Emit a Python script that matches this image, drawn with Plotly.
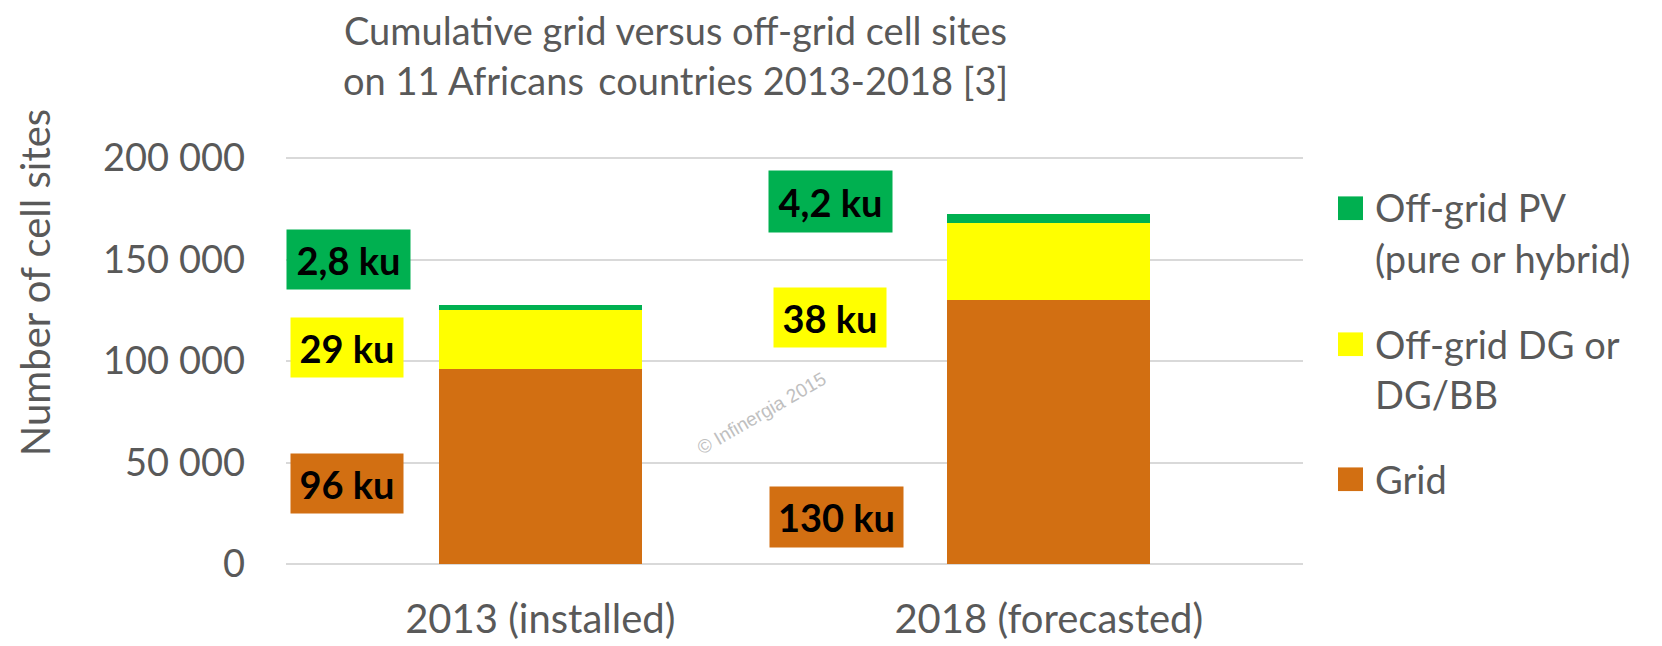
import plotly.graph_objects as go

# ---- data ----
categories = ["2013 (installed)", "2018 (forecasted)"]
grid = [96000, 130000]
offgrid_dg = [29000, 38000]
offgrid_pv = [2800, 4200]
series_names = ["Grid", "Off-grid DG or DG/BB", "Off-grid PV (pure or hybrid)"]
legend_lines = [["Grid"], ["Off-grid DG or", "DG/BB"], ["Off-grid PV", "(pure or hybrid)"]]
y_ticks = [0, 50000, 100000, 150000, 200000]
title_lines = ["Cumulative grid versus off-grid cell sites",
               "on 11 Africans\u2009 countries 2013-2018 [3]"]
y_title = "Number of cell sites"
watermark = "\u00a9 Infinergia 2015"

# ---- style ----
colors = ["#D26F12", "#FFFF00", "#00B050"]
GRAY = "#595959"
FONT = "Lato"

fig = go.Figure()
for name, vals, col in zip(series_names, [grid, offgrid_dg, offgrid_pv], colors):
    fig.add_trace(go.Bar(x=categories, y=vals, name=name, marker_color=col,
                         marker_line_width=0, width=0.4, showlegend=False))

def ku(v):
    s = f"{v/1000:g}".replace(".", ",")
    return f"{s} ku"

# label boxes: (series values, colour, per-category placement (x, y, width, height))
label_place = [
    (grid, colors[0], [(-0.380, 39500, 110, 57), (0.5826, 23300, 131, 58)]),
    (offgrid_dg, colors[1], [(-0.380, 106500, 110, 57), (0.5698, 121500, 110, 57)]),
    (offgrid_pv, colors[2], [(-0.377, 150000, 121, 57), (0.5708, 178500, 121, 59)]),
]
for vals, col, places in label_place:
    for v, (px_, py_, w, h) in zip(vals, places):
        fig.add_annotation(x=px_, y=py_, xref="x", yref="y", text=f"<b>{ku(v)}</b>",
                           showarrow=False, bgcolor=col, width=w, height=h,
                           font=dict(family=FONT, size=38, color="black"),
                           xanchor="center", yanchor="middle", valign="middle")

L, R, T, B = 278, 1295, 150, 564
W, H = R - L, B - T
def px(x):
    return (x - L) / W
def py(y):
    return (B - y) / H

# title (two lines)
for line, yc in zip(title_lines, [22, 73]):
    fig.add_annotation(x=px(667), y=py(yc), xref="paper", yref="paper", text=line,
                       showarrow=False, xanchor="center", yanchor="middle",
                       font=dict(family=FONT, size=38, color=GRAY))

# y axis title
fig.add_annotation(x=px(27), y=py(279), xref="paper", yref="paper", text=y_title,
                   textangle=-90, showarrow=False, xanchor="center", yanchor="middle",
                   font=dict(family=FONT, size=40, color=GRAY))

# watermark
fig.add_annotation(x=px(753), y=py(411), xref="paper", yref="paper", text=watermark,
                   textangle=-30, showarrow=False, xanchor="center", yanchor="middle",
                   font=dict(family="Liberation Sans", size=19, color="#C0C0C0"))

# legend (manual, large squares)
leg_items = [(legend_lines[2], colors[2], 191, [202, 253]),
             (legend_lines[1], colors[1], 329, [341, 391]),
             (legend_lines[0], colors[0], 466, [478])]
for lines, col, sq_top, ycs in leg_items:
    fig.add_shape(type="rect", xref="paper", yref="paper",
                  x0=px(1330), x1=px(1355), y0=py(sq_top), y1=py(sq_top + 24),
                  fillcolor=col, line_width=0)
    for t, yc in zip(lines, ycs):
        fig.add_annotation(x=px(1365), y=py(yc), xref="paper", yref="paper", text=t,
                           showarrow=False, xanchor="left", yanchor="middle",
                           font=dict(family=FONT, size=38, color=GRAY))

fig.update_layout(
    width=1662, height=646,
    margin=dict(l=L, r=1662 - R, t=T - 2, b=646 - B, pad=0),
    barmode="stack", bargap=0.6,
    plot_bgcolor="white", paper_bgcolor="white",
    separators=", ",
    showlegend=False,
    font=dict(family=FONT, color=GRAY),
)
fig.update_yaxes(range=[0, 201000], tickvals=y_ticks, tickformat=",",
                 showgrid=True, gridcolor="#D9D9D9", gridwidth=1.5,
                 zeroline=True, zerolinecolor="#D9D9D9", zerolinewidth=1.5,
                 showline=False, ticks="", ticklabelstandoff=40,
                 tickfont=dict(family=FONT, size=38, color=GRAY))
fig.update_xaxes(showline=False, ticks="", ticklabelstandoff=28,
                 tickfont=dict(family=FONT, size=40, color=GRAY))

fig.write_html("out.html")
